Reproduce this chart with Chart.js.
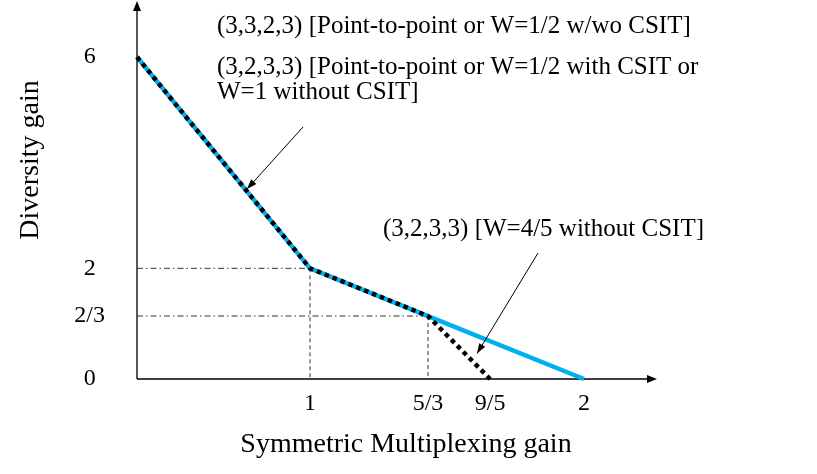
<!DOCTYPE html>
<html>
<head>
<meta charset="utf-8">
<script src="https://cdn.jsdelivr.net/npm/chart.js@4.4.1/dist/chart.umd.min.js"></script>
<style>
  html, body { margin: 0; padding: 0; background: #fff; }
  #wrap { position: relative; width: 817px; height: 474px; }
</style>
</head>
<body>
<div id="wrap"><canvas id="myChart"></canvas></div>
<script>
// tick values and their printed labels
const xTicks = [1, 5/3, 9/5, 2];
const xTickLabels = ['1', '5/3', '9/5', '2'];
const yTicks = [0, 2/3, 2, 6];
const yTickLabels = ['0', '2/3', '2', '6'];

// tradeoff curves (multiplexing gain, diversity gain)
const blueX = [0, 1, 5/3, 2];
const blueY = [6, 2, 2/3, 0];
const dotX = [0, 1, 5/3, 9/5];
const dotY = [6, 2, 2/3, 0];

const noteLines = [
  '(3,3,2,3) [Point-to-point or W=1/2 w/wo CSIT]',
  '(3,2,3,3) [Point-to-point or W=1/2 with CSIT or',
  'W=1 without CSIT]',
  '(3,2,3,3) [W=4/5 without CSIT]'
];

// the figure is a sketch, axes are not to scale: value -> fraction of axis
const BREAKS = {
  x: [[0, 0], [1, 0.3327], [5/3, 0.5596], [9/5, 0.679], [2, 0.8596], [2.4, 1]],
  y: [[0, 0], [2/3, 0.167], [2, 0.2936], [6, 0.854], [7, 1]]
};

const SERIF = "'Liberation Serif', 'Times New Roman', serif";

class SketchScale extends Chart.LinearScale {
  _frac(v) {
    const b = BREAKS[this.id];
    for (let i = 1; i < b.length; i++) {
      if (v <= b[i][0] || i === b.length - 1) {
        const t = (v - b[i-1][0]) / (b[i][0] - b[i-1][0]);
        return b[i-1][1] + t * (b[i][1] - b[i-1][1]);
      }
    }
    return 0;
  }
  getPixelForValue(v) {
    return this.getPixelForDecimal(this._frac(v));
  }
  getValueForPixel(p) {
    const d = this.getDecimalForPixel(p);
    const b = BREAKS[this.id];
    for (let i = 1; i < b.length; i++) {
      if (d <= b[i][1] || i === b.length - 1) {
        const t = (d - b[i-1][1]) / (b[i][1] - b[i-1][1]);
        return b[i-1][0] + t * (b[i][0] - b[i-1][0]);
      }
    }
    return 0;
  }
}
SketchScale.id = 'sketch';
SketchScale.defaults = {};
Chart.register(SketchScale);

function pts(xs, ys) { return xs.map((x, i) => ({x: x, y: ys[i]})); }

// guide lines from the axes to the two corner points
const guides = [];
[1, 2].forEach(i => {
  guides.push({
    data: [{x: 0, y: blueY[i]}, {x: blueX[i], y: blueY[i]}],
    borderColor: '#333', borderWidth: 1, borderDash: [6, 3, 1.5, 3],
    pointRadius: 0, clip: false, order: 5
  });
  guides.push({
    data: [{x: blueX[i], y: blueY[i]}, {x: blueX[i], y: 0}],
    borderColor: '#333', borderWidth: 1, borderDash: [4, 3],
    pointRadius: 0, clip: false, order: 5
  });
});

function arrowHead(ctx, x0, y0, x1, y1, len, w) {
  const a = Math.atan2(y1 - y0, x1 - x0);
  ctx.beginPath();
  ctx.moveTo(x1, y1);
  ctx.lineTo(x1 - len*Math.cos(a) + w*Math.sin(a), y1 - len*Math.sin(a) - w*Math.cos(a));
  ctx.lineTo(x1 - len*Math.cos(a) - w*Math.sin(a), y1 - len*Math.sin(a) + w*Math.cos(a));
  ctx.closePath();
  ctx.fill();
}

function pointer(ctx, x0, y0, x1, y1) {
  ctx.beginPath();
  ctx.moveTo(x0, y0);
  ctx.lineTo(x1, y1);
  ctx.stroke();
  arrowHead(ctx, x0, y0, x1, y1, 10, 3.5);
}

const sketchAxes = {
  id: 'sketchAxes',
  beforeDatasetsDraw(chart) {
    const ctx = chart.ctx, xs = chart.scales.x, ys = chart.scales.y;
    const ox = xs.getPixelForValue(0), oy = ys.getPixelForValue(0);
    ctx.save();
    ctx.strokeStyle = '#000';
    ctx.fillStyle = '#000';
    ctx.lineWidth = 1.3;
    ctx.beginPath();
    ctx.moveTo(ox, oy);
    ctx.lineTo(ox, ys.top + 8);
    ctx.moveTo(ox, oy);
    ctx.lineTo(xs.right - 8, oy);
    ctx.stroke();
    arrowHead(ctx, ox, oy, ox, ys.top - 1, 10, 4);
    arrowHead(ctx, ox, oy, xs.right, oy, 10, 4);
    ctx.restore();
  },
  afterDraw(chart) {
    const ctx = chart.ctx, xs = chart.scales.x, ys = chart.scales.y;
    ctx.save();
    ctx.fillStyle = '#000';
    ctx.strokeStyle = '#000';
    ctx.font = '25px ' + SERIF;
    ctx.textBaseline = 'alphabetic';
    ctx.textAlign = 'left';
    ctx.fillText(noteLines[0], 217, 33);
    ctx.fillText(noteLines[1], 217, 74);
    ctx.fillText(noteLines[2], 217, 99);
    ctx.fillText(noteLines[3], 383, 236);

    ctx.lineWidth = 1;
    pointer(ctx, 303, 127, xs.getPixelForValue(0.636), ys.getPixelForValue(3.5));
    pointer(ctx, 538, 253, xs.getPixelForValue(1.772), ys.getPixelForValue(0.27));

    ctx.font = '28px ' + SERIF;
    ctx.textAlign = 'center';
    ctx.textBaseline = 'middle';
    ctx.fillText('Symmetric Multiplexing gain', 406, 445);
    ctx.translate(31, 160);
    ctx.rotate(-Math.PI / 2);
    ctx.fillText('Diversity gain', 0, 0);
    ctx.restore();
  }
};

const ctx = document.getElementById('myChart').getContext('2d');
const myChart = new Chart(ctx, {
  type: 'line',
  data: {
    datasets: [
      {
        label: 'W=4/5 without CSIT',
        data: pts(dotX, dotY),
        borderColor: '#000',
        borderWidth: 4.5,
        borderDash: [4.5, 4],
        borderCapStyle: 'butt',
        pointRadius: 0,
        clip: false,
        order: 1
      },
      {
        label: 'Point-to-point',
        data: pts(blueX, blueY),
        borderColor: '#00B0F0',
        borderWidth: 4.5,
        pointRadius: 0,
        clip: false,
        order: 2
      },
      ...guides
    ]
  },
  options: {
    responsive: true,
    maintainAspectRatio: false,
    animation: false,
    layout: { padding: { left: 0, right: 160, top: 2, bottom: 0 } },
    plugins: { legend: { display: false }, tooltip: { enabled: false } },
    scales: {
      x: {
        type: 'sketch',
        min: 0, max: 2.4,
        grid: { display: false, drawTicks: true, tickLength: 10 },
        border: { display: false },
        afterBuildTicks: s => { s.ticks = xTicks.map(v => ({value: v})); },
        afterFit: s => { s.height = 95; s.paddingLeft = 0; s.paddingRight = 0; },
        ticks: {
          autoSkip: false,
          maxRotation: 0,
          padding: 0,
          color: '#000',
          font: { family: SERIF, size: 24 },
          callback: (v, i) => xTickLabels[i]
        }
      },
      y: {
        type: 'sketch',
        min: 0, max: 7,
        grid: { display: false, drawTicks: true, tickLength: 32 },
        border: { display: false },
        afterBuildTicks: s => { s.ticks = yTicks.map(v => ({value: v})); },
        afterFit: s => { s.width = 137; s.paddingTop = 0; s.paddingBottom = 0; },
        ticks: {
          autoSkip: false,
          crossAlign: 'center',
          padding: 0,
          color: '#000',
          font: { family: SERIF, size: 24 },
          callback: (v, i) => yTickLabels[i]
        }
      }
    }
  },
  plugins: [sketchAxes]
});
</script>
</body>
</html>
